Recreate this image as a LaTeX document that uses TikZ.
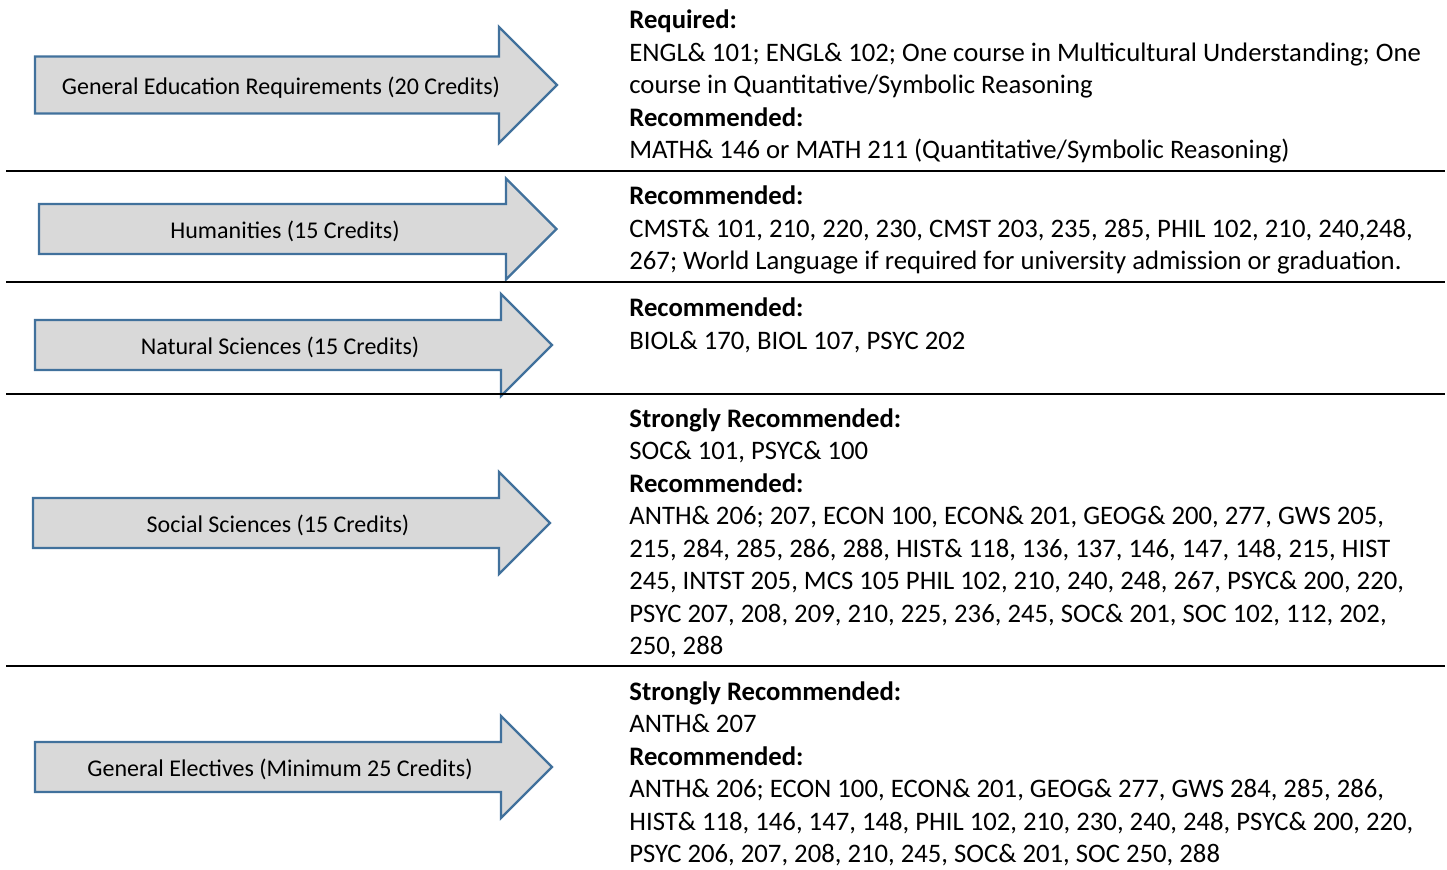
\documentclass[tikz,border=0pt]{standalone}
\usepackage{fontspec}
\setmainfont{Carlito}
\usetikzlibrary{positioning}
\definecolor{arrowblue}{HTML}{41719C}
\definecolor{arrowgray}{HTML}{D9D9D9}
\def\mytextfont{\fontsize{13.35}{16.25}\selectfont}
\def\mylabelfont{\fontsize{12}{14}\selectfont}
\def\mytextx{629}
% One block arrow: name, left x, neck x, centre y, half body, half head, label x, label
\newcommand{\creditarrow}[8]{
  \draw[credit arrow]
    (#2,{#4-#5}) -- (#3,{#4-#5}) -- (#3,{#4-#6}) -- ({#3+#6},#4)
    -- (#3,{#4+#6}) -- (#3,{#4+#5}) -- (#2,{#4+#5}) -- cycle;
  \node[arrow label] (#1) at (#7,{#4+9}) {#8};
}
\tikzset{
  credit arrow/.style={
    draw=arrowblue,
    fill=arrowgray,
    line width=1.2pt,
    line join=miter
  },
  arrow label/.style={
    font=\mylabelfont,
    anchor=base,
    inner sep=0pt
  },
  course list/.style={
    font=\mytextfont,
    align=left,
    anchor=base west, % base of the last line
    inner sep=0pt
  },
  divider/.style={
    line width=1pt
  }
}
\begin{document}
\begin{tikzpicture}[x=0.5pt,y=-0.5pt]
\useasboundingbox (0,0) rectangle (1447,869);

\creditarrow{gen}{35}{499}{85}{28.5}{58}{281}{General Education Requirements (20 Credits)}
\creditarrow{hum}{39}{506}{229}{25}{50.5}{285}{Humanities (15 Credits)}
\creditarrow{nat}{35}{501}{345}{25}{51}{280}{Natural Sciences (15 Credits)}
\creditarrow{soc}{33}{499}{523}{25}{51}{278}{Social Sciences (15 Credits)}
\creditarrow{ele}{35}{501}{767}{25}{51}{280}{General Electives (Minimum 25 Credits)}

% row dividers
\coordinate (d1l) at (6,171);   \coordinate (d1r) at (1445,171);
\coordinate (d2l) at (6,282);   \coordinate (d2r) at (1445,282);
\coordinate (d3l) at (6,394);   \coordinate (d3r) at (1445,394);
\coordinate (d4l) at (6,666);   \coordinate (d4r) at (1445,666);
\draw[divider] (d1l) -- (d1r);
\draw[divider] (d2l) -- (d2r);
\draw[divider] (d3l) -- (d3r);
\draw[divider] (d4l) -- (d4r);

\node[course list] (genlist) at (\mytextx,158.5) {\textbf{Required:}\\
  ENGL\& 101; ENGL\& 102; One course in Multicultural Understanding; One\\
  course in Quantitative/Symbolic Reasoning\\
  \textbf{Recommended:}\\
  MATH\& 146 or MATH 211 (Quantitative/Symbolic Reasoning)};
\node[course list] (humlist) at (\mytextx,269.5) {\textbf{Recommended:}\\
  CMST\& 101, 210, 220, 230, CMST 203, 235, 285, PHIL 102, 210, 240,248,\\
  267; World Language if required for university admission or graduation.};
\node[course list] (natlist) at (\mytextx,349) {\textbf{Recommended:}\\
  BIOL\& 170, BIOL 107, PSYC 202};
\node[course list] (soclist) at (\mytextx,654.5) {\textbf{Strongly Recommended:}\\
  SOC\& 101, PSYC\& 100\\
  \textbf{Recommended:}\\
  ANTH\& 206; 207, ECON 100, ECON\& 201, GEOG\& 200, 277, GWS 205,\\
  215, 284, 285, 286, 288, HIST\& 118, 136, 137, 146, 147, 148, 215, HIST\\
  245, INTST 205, MCS 105 PHIL 102, 210, 240, 248, 267, PSYC\& 200, 220,\\
  PSYC 207, 208, 209, 210, 225, 236, 245, SOC\& 201, SOC 102, 112, 202,\\
  250, 288};
\node[course list] (elelist) at (\mytextx,862.5) {\textbf{Strongly Recommended:}\\
  ANTH\& 207\\
  \textbf{Recommended:}\\
  ANTH\& 206; ECON 100, ECON\& 201, GEOG\& 277, GWS 284, 285, 286,\\
  HIST\& 118, 146, 147, 148, PHIL 102, 210, 230, 240, 248, PSYC\& 200, 220,\\
  PSYC 206, 207, 208, 210, 245, SOC\& 201, SOC 250, 288};
\end{tikzpicture}
\end{document}
